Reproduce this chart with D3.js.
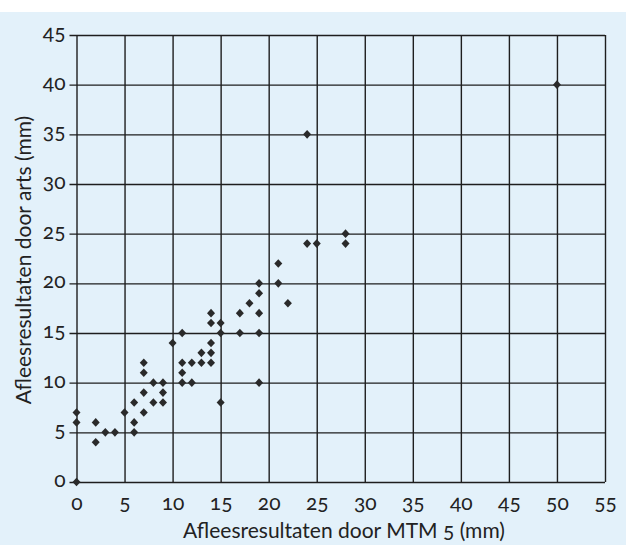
<!DOCTYPE html>
<html>
<head>
<meta charset="utf-8">
<script src="https://cdn.jsdelivr.net/npm/d3@7"></script>
<style>
  body { margin: 0; background: #fff; }
  svg { display: block; font-family: Lato, "Open Sans", sans-serif; font-variant-numeric: oldstyle-nums; }
</style>
</head>
<body>
<div id="chart"></div>
<script>
// readings: MTM 5 (x) vs arts (y), in mm
let mtm  = [0, 0, 0, 2, 2, 3, 4, 5, 6, 6, 6, 7, 7, 7, 7, 8, 8, 9, 9, 9,
            10, 11, 11, 11, 11, 12, 12, 13, 13, 14, 14, 14, 14, 14, 15, 15, 15,
            17, 17, 18, 19, 19, 19, 19, 19, 21, 21, 22, 24, 25, 28, 28, 24, 50]
let arts = [0, 6, 7, 4, 6, 5, 5, 7, 5, 6, 8, 7, 9, 11, 12, 8, 10, 8, 9, 10,
            14, 10, 11, 12, 15, 10, 12, 12, 13, 12, 13, 14, 16, 17, 8, 15, 16,
            15, 17, 18, 10, 15, 17, 19, 20, 20, 22, 18, 24, 24, 24, 25, 35, 40]
let xTicks = d3.range(0, 56, 5)
let yTicks = d3.range(0, 46, 5)
let xTitle = "Afleesresultaten door MTM 5 (mm)"
let yTitle = "Afleesresultaten door arts (mm)"

let width = 626, height = 545
let plotLeft = 76.5, plotRight = 605, plotTop = 35, plotBottom = 482

let svg = d3.select("#chart").append("svg")
    .attr("width", width)
    .attr("height", height)

// light blue page, white strip at the top
svg.append("rect")
    .attr("y", 12)
    .attr("width", width)
    .attr("height", height - 12)
    .attr("fill", "#e3f1fa")

let x = d3.scaleLinear().domain([0, 55]).range([plotLeft, plotRight])
let y = d3.scaleLinear().domain([0, 45]).range([plotBottom, plotTop])

let xAxisG = svg.append("g")
    .attr("transform", "translate(0," + plotBottom + ")")
    .call(d3.axisBottom(x).tickValues(xTicks).tickSize(-(plotBottom - plotTop)))
let yAxisG = svg.append("g")
    .attr("transform", "translate(" + plotRight + ",0)")
    .call(d3.axisLeft(y).tickValues(yTicks).tickSize(plotRight - plotLeft + 7).tickPadding(4))

svg.selectAll(".domain").remove()
for (const g of [xAxisG, yAxisG]) {
    g.attr("font-family", null).attr("font-size", null)
}
svg.selectAll(".tick line")
    .attr("stroke", "#1e1e1e")
    .attr("stroke-width", 1.4)
svg.selectAll(".tick text")
    .attr("fill", "#222")
    .style("font-size", "21px")
xAxisG.selectAll(".tick text")
    .attr("y", 28)
    .attr("dy", null)
yAxisG.selectAll(".tick text")
    .attr("dy", "0.22em")

// the diamonds
let pts = mtm.map((d, i) => ({x: d, y: arts[i]}))
svg.append("g").selectAll("path")
    .data(pts)
    .enter()
    .append("path")
    .attr("d", "M0,-4.3L4,0L0,4.3L-4,0Z")
    .attr("transform", d => "translate(" + x(d.x) + "," + y(d.y) + ")")
    .attr("fill", "#2a2a2a")

svg.append("text")
    .attr("x", 344)
    .attr("y", 538)
    .attr("text-anchor", "middle")
    .attr("fill", "#222")
    .style("font-size", "21px")
    .text(xTitle)

svg.append("text")
    .attr("transform", "translate(31,260) rotate(-90)")
    .attr("text-anchor", "middle")
    .attr("fill", "#222")
    .style("font-size", "21px")
    .text(yTitle)
</script>
</body>
</html>
